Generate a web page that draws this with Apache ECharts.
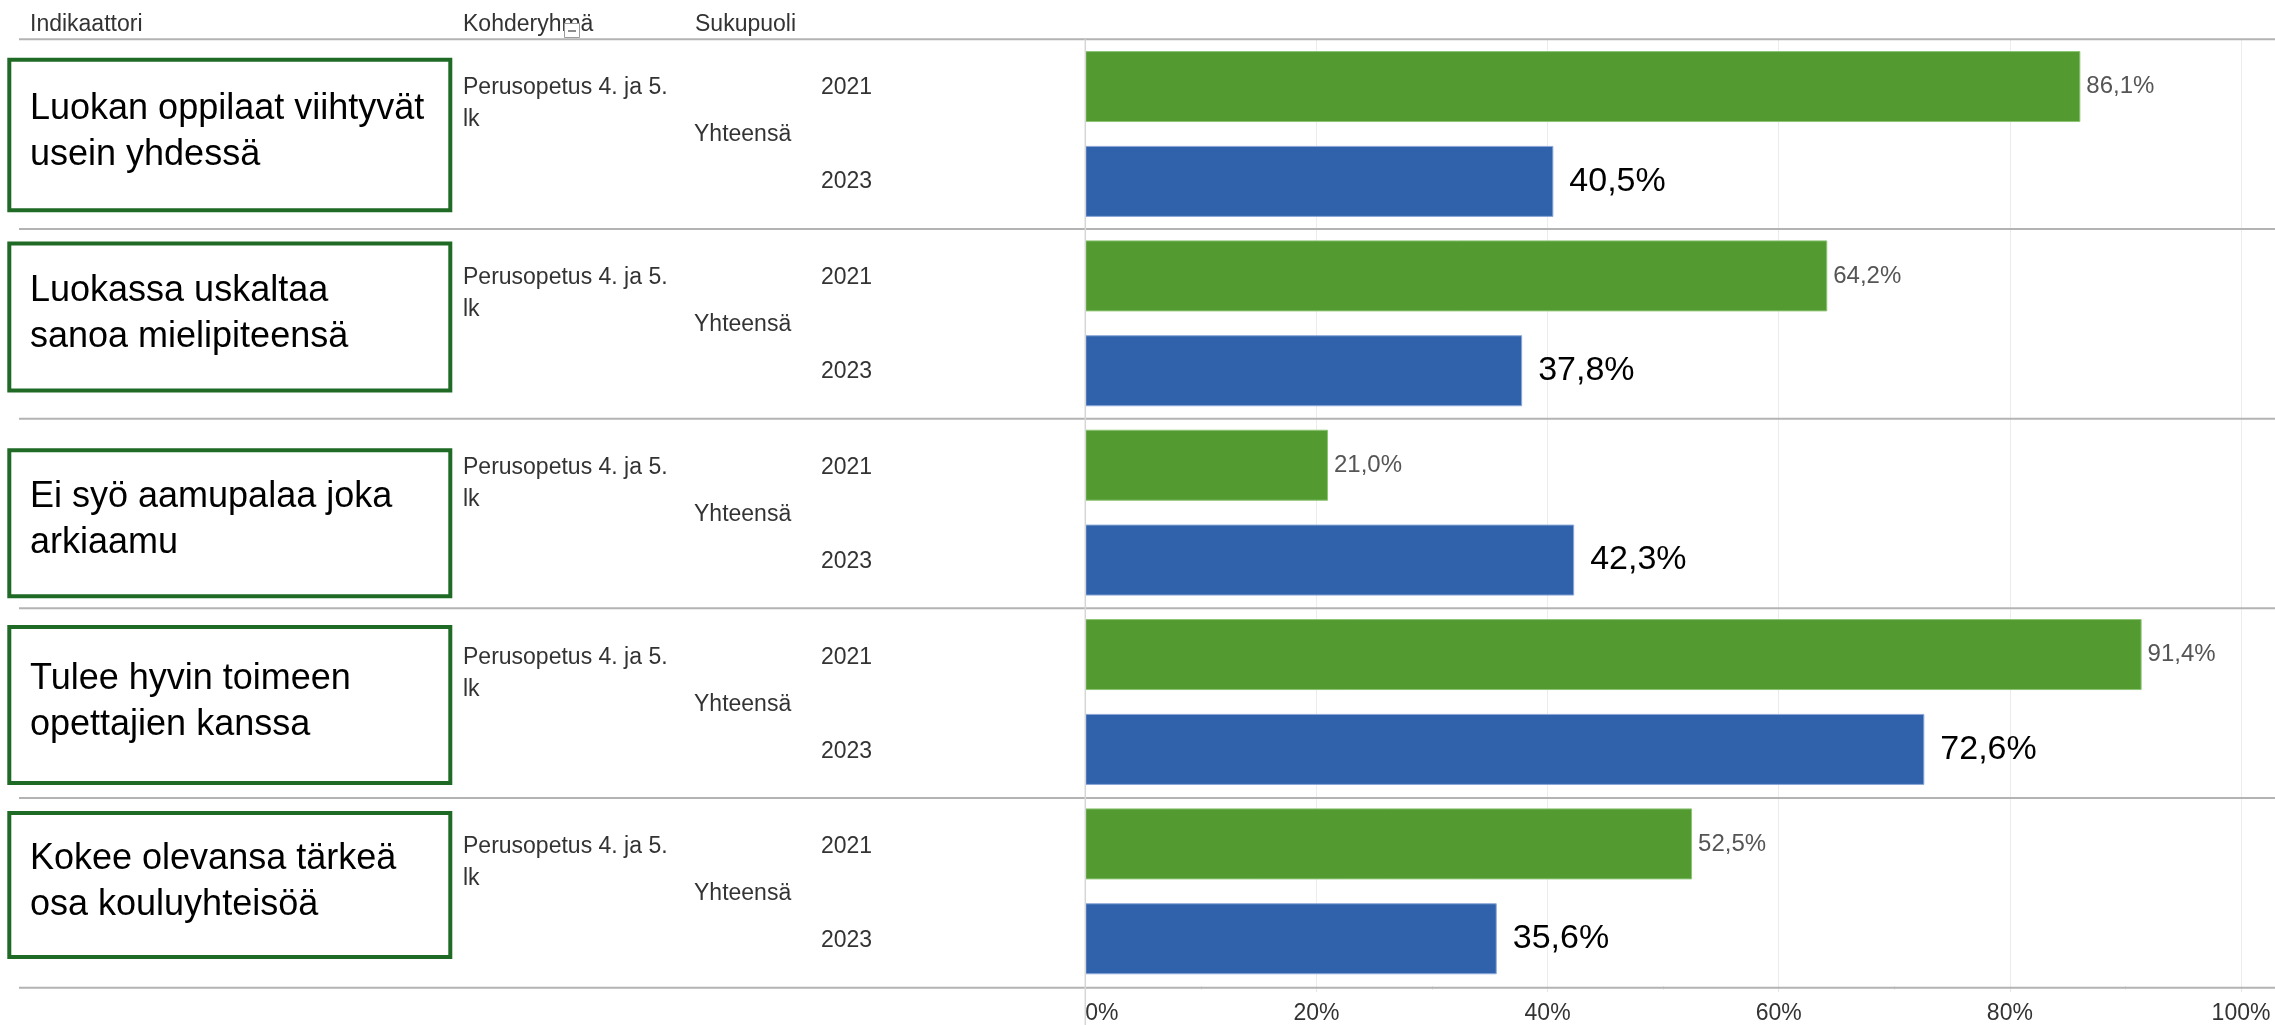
<!DOCTYPE html>
<html><head><meta charset="utf-8">
<script src="https://cdn.jsdelivr.net/npm/echarts@6/dist/echarts.min.js"></script>
<style>html,body{margin:0;padding:0;background:#fff}#c{width:2275px;height:1025px}</style>
</head><body><div id="c"></div>
<script>
// ---- data ----
const indicatorLines = [
  ['Luokan oppilaat viihtyvät', 'usein yhdessä'],
  ['Luokassa uskaltaa', 'sanoa mielipiteensä'],
  ['Ei syö aamupalaa joka', 'arkiaamu'],
  ['Tulee hyvin toimeen', 'opettajien kanssa'],
  ['Kokee olevansa tärkeä', 'osa kouluyhteisöä']
];
const categories = indicatorLines.map(l => l.join(' '));
const headers = ['Indikaattori', 'Kohderyhmä', 'Sukupuoli'];
const targetGroupLines = ['Perusopetus 4. ja 5.', 'lk'];
const genderLabel = 'Yhteensä';
const years = ['2021', '2023'];
const values2021 = [86.1, 64.2, 21.0, 91.4, 52.5];
const values2023 = [40.5, 37.8, 42.3, 72.6, 35.6];
const axisMin = 0, axisMax = 100, axisStep = 20;

// ---- layout (not data) ----
const W = 2275, H = 1025;
const gridLeft = 1085.3, gridRightX = 2241, gridTop = 39.3, gridBottomY = 987.7;
const rowH = (gridBottomY - gridTop) / categories.length;
// box top/bottom relative to row top
const boxRel = [[18.4, 173], [12.5, 163.5], [29.5, 179.5], [16.6, 176.6], [13, 161]];
const FONT = "'Liberation Sans', Arial, sans-serif";
const fmt = v => v.toFixed(1).replace('.', ',') + '%';

const chart = echarts.init(document.getElementById('c'), null, {renderer: 'canvas'});

const graphics = [];
// separators
for (let i = 0; i <= categories.length; i++) {
  const y = gridTop + i * rowH;
  graphics.push({type: 'line', silent: true, z: 5,
    shape: {x1: 19, y1: y, x2: W, y2: y},
    style: {stroke: '#b3b3b3', lineWidth: 2}});
}
// vertical zero line
graphics.push({type: 'line', silent: true, z: 6,
  shape: {x1: gridLeft, y1: gridTop, x2: gridLeft, y2: H},
  style: {stroke: '#d6d6d6', lineWidth: 1.5}});
// headers
const headerX = [30, 463, 695];
headers.forEach((t, i) => graphics.push({type: 'text', silent: true, x: headerX[i], y: 25,
  style: {text: t, fontSize: 23, fontFamily: FONT, fill: '#333', verticalAlign: 'middle'}}));
// little collapse icon over the header
graphics.push({type: 'rect', silent: true, z: 10, shape: {x: 564.5, y: 23.5, width: 15, height: 14},
  style: {fill: '#fff', stroke: '#9a9a9a', lineWidth: 1}});
graphics.push({type: 'line', silent: true, z: 11, shape: {x1: 568, y1: 31, x2: 576, y2: 31},
  style: {stroke: '#666', lineWidth: 1.5}});

categories.forEach((c, i) => {
  const top = gridTop + i * rowH;
  const mid = top + rowH / 2;
  const bt = top + boxRel[i][0], bb = top + boxRel[i][1];
  graphics.push({type: 'rect', silent: true, z: 3,
    shape: {x: 9.3, y: bt + 2, width: 441, height: bb - bt - 4},
    style: {fill: '#fff', stroke: '#1f6b26', lineWidth: 4}});
  const bc = (bt + bb) / 2;
  indicatorLines[i].forEach((line, k) => graphics.push({type: 'text', silent: true, z: 4,
    x: 30, y: bc - 26 + k * 46,
    style: {text: line, fontSize: 36, fontFamily: FONT, fill: '#000', verticalAlign: 'middle'}}));
  targetGroupLines.forEach((line, k) => graphics.push({type: 'text', silent: true, z: 4,
    x: 463, y: mid - 46 + k * 32,
    style: {text: line, fontSize: 23, fontFamily: FONT, fill: '#333', verticalAlign: 'middle'}}));
  graphics.push({type: 'text', silent: true, z: 4, x: 694, y: mid + 1,
    style: {text: genderLabel, fontSize: 23, fontFamily: FONT, fill: '#333', verticalAlign: 'middle'}});
  years.forEach((yr, k) => graphics.push({type: 'text', silent: true, z: 4,
    x: 821, y: mid - 46 + k * 94,
    style: {text: yr, fontSize: 23, fontFamily: FONT, fill: '#333', verticalAlign: 'middle'}}));
});

chart.setOption({
  animation: false,
  backgroundColor: '#fff',
  textStyle: {fontFamily: FONT},
  grid: {left: gridLeft, right: W - gridRightX, top: gridTop, bottom: H - gridBottomY, containLabel: false},
  xAxis: {
    type: 'value', min: axisMin, max: axisMax, interval: axisStep,
    axisLine: {show: false},
    axisTick: {show: true, length: 6, lineStyle: {color: '#e6e6e6'}},
    minorTick: {show: true, splitNumber: 2, length: 4, lineStyle: {color: '#ececec'}},
    splitLine: {show: true, lineStyle: {color: '#ececec', width: 1}},
    axisLabel: {formatter: '{value}%', fontSize: 23, color: '#333', margin: 16,
      alignMinLabel: 'left', fontFamily: FONT}
  },
  yAxis: {
    type: 'category', data: categories, inverse: true,
    axisLine: {show: false}, axisTick: {show: false}, axisLabel: {show: false},
    splitLine: {show: false}
  },
  series: [
    {name: years[0], type: 'bar', data: values2021, barWidth: 71, barGap: '33.6%',
      itemStyle: {color: '#539b31', borderColor: '#8dc474', borderWidth: 1},
      label: {show: true, position: 'right', distance: 6, fontSize: 24, color: '#555',
        fontFamily: FONT, formatter: p => fmt(p.value)}},
    {name: years[1], type: 'bar', data: values2023, barWidth: 71, barGap: '33.6%',
      itemStyle: {color: '#2f62ab', borderColor: '#8aa7d8', borderWidth: 1},
      label: {show: true, position: 'right', distance: 16, fontSize: 34, color: '#000',
        fontFamily: FONT, formatter: p => fmt(p.value)}}
  ],
  graphic: graphics
});
</script></body></html>
